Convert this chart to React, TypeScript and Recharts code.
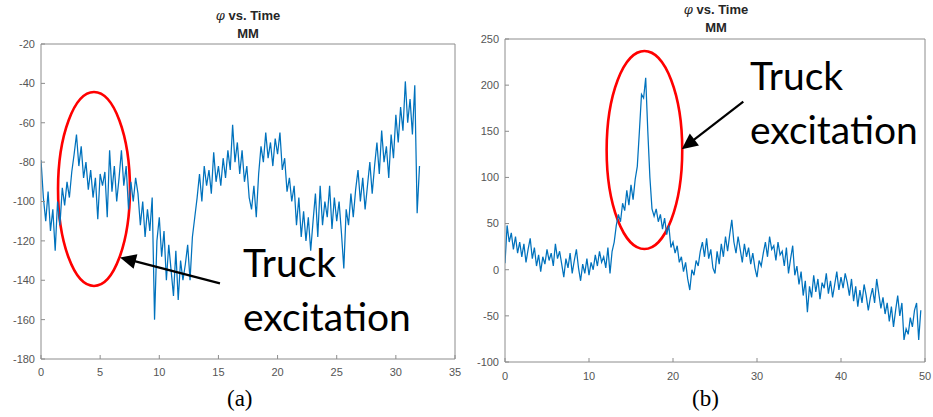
import React from "react";
import { LineChart, Line, XAxis, YAxis, ReferenceArea, ReferenceLine } from "recharts";

// (a) phi vs time, sampled every 0.2 s
const stepA = 0.2;
const phiA = [
  -79, -98, -110, -95, -115, -104,
  -125, -100, -112, -93, -102,
  -90, -98, -85, -76, -66,
  -82, -72, -88, -80, -94,
  -84, -98, -88, -109, -86,
  -92, -85, -108, -74, -95,
  -82, -100, -88, -74, -92,
  -82, -104, -90, -100, -88,
  -96, -112, -100, -118, -104,
  -115, -98, -160, -120, -108,
  -128, -115, -140, -122, -135,
  -148, -125, -150, -130, -140,
  -132, -122, -140, -118, -108,
  -98, -86, -100, -82, -92,
  -84, -96, -75, -90, -82,
  -92, -78, -88, -74, -84,
  -61, -80, -70, -86, -74,
  -90, -82, -98, -104, -92,
  -108, -86, -72, -80, -65,
  -78, -70, -82, -68, -76,
  -65, -84, -78, -95, -88,
  -100, -92, -112, -98, -118,
  -105, -120, -108, -125, -110,
  -96, -118, -92, -112, -100,
  -108, -92, -114, -98, -110,
  -100, -116, -134, -104, -112,
  -96, -108, -94, -84, -100,
  -88, -104, -92, -80, -96,
  -82, -70, -86, -64, -80,
  -72, -88, -66, -78, -56,
  -70, -52, -64, -39, -60,
  -48, -66, -41, -106, -82,
];

// (b) phi vs time, sampled every 0.25 s
const stepB = 0.25;
const phiB = [
  7, 48, 30, 40,
  22, 36, 18, 30,
  14, 28, 8, 22,
  34, 12, 24, 4,
  16, -2, 14, 6,
  22, 10, 18, 4,
  28, 12, 20, 6,
  -8, 12, 2, 18,
  -4, 10, 22, 2,
  -12, 6, -4, 12,
  -6, 8, 0, 16,
  4, 20, 8, 14,
  2, 24, -4, 20,
  30, 48, 60, 52,
  72, 64, 86, 70,
  92, 76, 98, 112,
  150, 190, 186, 208,
  150, 100, 66, 58,
  66, 52, 60, 44,
  56, 38, 48, 24,
  30, 18, 26, 8,
  14, -2, 8, -10,
  -22, 0, -6, 10,
  4, 20, 30, 14,
  34, 12, 22, 2,
  -4, 20, 6, 28,
  14, 36, 20, 38,
  54, 30, 18, 36,
  22, 8, 28, 14,
  24, 6, 18, 2,
  -8, 10, 4, 18,
  30, 14, 36, 22,
  26, 10, 30, 16,
  20, 4, 24, -4,
  12, 26, -6, 4,
  -16, -2, -28, -12,
  -46, -18, -30, -6,
  -24, -10, -32, -14,
  -20, -4, -26, -12,
  -30, -16, -2, -22,
  -8, -20, -4, -14,
  -28, -10, -34, -18,
  -40, -22, -36, -16,
  -28, -44, -30, -20,
  -36, -10, -26, -42,
  -30, -48, -36, -56,
  -40, -62, -44, -28,
  -50, -36, -76, -64,
  -70, -52, -62, -44,
  -36, -76, -44,
];

const xTicksA = [0, 5, 10, 15, 20, 25, 30, 35];
const yTicksA = [-180, -160, -140, -120, -100, -80, -60, -40, -20];
const xTicksB = [0, 10, 20, 30, 40, 50];
const yTicksB = [-100, -50, 0, 50, 100, 150, 200, 250];

const titleLine1 = "vs. Time";
const titleLine2 = "MM";
const annotationWord1 = "Truck";
const annotationWord2 = "excitation";
const captionA = "(a)";
const captionB = "(b)";

// annotation anchors in data coordinates
const ellipseA = { x1: 1.44, x2: 7.52, y1: -142.9, y2: -44.4 };
const arrowA = [{ x: 15.13, y: -141.6 }, { x: 6.68, y: -128.4 }];
const ellipseB = { x1: 12.1, x2: 21.1, y1: 22.4, y2: 237 };
const arrowB = [{ x: 28.37, y: 182.1 }, { x: 21.04, y: 130.5 }];

const dataA = phiA.map((v, i) => ({ t: +(i * stepA).toFixed(3), v }));
const dataB = phiB.map((v, i) => ({ t: +(i * stepB).toFixed(3), v }));

const AXIS = "#8c8c8c";
const TICKTXT = "#555555";
const LINE = "#0072BD";
const tickStyle = { fontSize: 11, fill: TICKTXT, fontFamily: "Liberation Sans, Arial, sans-serif" };

const EllipseShape = (p: any) => (
  <ellipse
    cx={p.x + p.width / 2}
    cy={p.y + p.height / 2}
    rx={Math.abs(p.width) / 2}
    ry={Math.abs(p.height) / 2}
    fill="none"
    stroke="#ff0000"
    strokeWidth={2.6}
  />
);

const ArrowShape = (p: any) => {
  const { x1, y1, x2, y2 } = p;
  const dx = x2 - x1;
  const dy = y2 - y1;
  const len = Math.sqrt(dx * dx + dy * dy) || 1;
  const ux = dx / len;
  const uy = dy / len;
  const hl = 16;
  const hw = 7.5;
  const bx = x2 - ux * hl;
  const by = y2 - uy * hl;
  const pts = `${x2},${y2} ${bx - uy * hw},${by + ux * hw} ${bx + uy * hw},${by - ux * hw}`;
  return (
    <g>
      <line x1={x1} y1={y1} x2={bx + ux * 2} y2={by + uy * 2} stroke="#000" strokeWidth={2.2} />
      <polygon points={pts} fill="#000" />
    </g>
  );
};

function Panel(props: any) {
  const { data, xDomain, yDomain, xTicks, yTicks, ellipse, arrow, margin, width, height, xTickMargin } = props;
  return (
    <LineChart width={width} height={height} data={data} margin={margin}>
      <XAxis
        dataKey="t"
        type="number"
        domain={xDomain}
        ticks={xTicks}
        allowDataOverflow
        height={30}
        stroke={AXIS}
        tickSize={-4}
        tickMargin={xTickMargin}
        tick={tickStyle}
        interval={0}
      />
      <XAxis
        xAxisId="top"
        orientation="top"
        dataKey="t"
        type="number"
        domain={xDomain}
        ticks={xTicks}
        allowDataOverflow
        height={1}
        stroke={AXIS}
        tickSize={-4}
        tick={false}
        interval={0}
      />
      <YAxis
        type="number"
        domain={yDomain}
        ticks={yTicks}
        allowDataOverflow
        width={35}
        stroke={AXIS}
        tickSize={-4}
        tickMargin={10}
        tick={tickStyle}
        interval={0}
      />
      <YAxis
        yAxisId="right"
        orientation="right"
        type="number"
        domain={yDomain}
        ticks={yTicks}
        allowDataOverflow
        width={1}
        stroke={AXIS}
        tickSize={-4}
        tick={false}
        interval={0}
      />
      <Line
        type="linear"
        dataKey="v"
        stroke={LINE}
        strokeWidth={1.25}
        dot={false}
        isAnimationActive={false}
      />
      <ReferenceArea
        x1={ellipse.x1}
        x2={ellipse.x2}
        y1={ellipse.y1}
        y2={ellipse.y2}
        ifOverflow="visible"
        shape={EllipseShape}
      />
      <ReferenceLine segment={arrow} ifOverflow="visible" shape={ArrowShape} />
    </LineChart>
  );
}

const titleStyle: React.CSSProperties = {
  position: "absolute",
  width: 200,
  textAlign: "center",
  fontFamily: "Liberation Sans, Arial, sans-serif",
  fontWeight: "bold",
  fontSize: 13,
  lineHeight: "18px",
  color: "#262626",
};

const annStyle: React.CSSProperties = {
  position: "absolute",
  fontFamily: "Lato, 'Open Sans', sans-serif",
  fontSize: 39,
  lineHeight: "54px",
  color: "#000",
  whiteSpace: "nowrap",
};

const capStyle: React.CSSProperties = {
  position: "absolute",
  fontFamily: "'Liberation Serif', 'Times New Roman', serif",
  fontSize: 23,
  lineHeight: "26px",
  color: "#000",
};

export default function App() {
  return (
    <div style={{ position: "absolute", left: 0, top: 0, width: 933, height: 417, background: "#fff", overflow: "hidden" }}>
      <div style={{ position: "absolute", left: 0, top: 0 }}>
        <Panel
          width={466}
          height={417}
          data={dataA}
          xDomain={[0, 35]}
          yDomain={[-180, -20]}
          xTicks={xTicksA}
          yTicks={yTicksA}
          ellipse={ellipseA}
          arrow={arrowA}
          margin={{ top: 43, left: 6, right: 10, bottom: 28 }}
          xTickMargin={13}
        />
      </div>
      <div style={{ position: "absolute", left: 466, top: 0 }}>
        <Panel
          width={467}
          height={417}
          data={dataB}
          xDomain={[0, 50]}
          yDomain={[-100, 250]}
          xTicks={xTicksB}
          yTicks={yTicksB}
          ellipse={ellipseB}
          arrow={arrowB}
          margin={{ top: 38, left: 4, right: 7, bottom: 25 }}
          xTickMargin={14}
        />
      </div>

      <div style={{ ...titleStyle, left: 148, top: 7 }}>
        <span style={{ fontStyle: "italic", fontWeight: "normal", fontFamily: "'DejaVu Serif', serif" }}>φ</span> {titleLine1}
      </div>
      <div style={{ ...titleStyle, left: 148, top: 25 }}>{titleLine2}</div>
      <div style={{ ...titleStyle, left: 616, top: 1 }}>
        <span style={{ fontStyle: "italic", fontWeight: "normal", fontFamily: "'DejaVu Serif', serif" }}>φ</span> {titleLine1}
      </div>
      <div style={{ ...titleStyle, left: 616, top: 19 }}>{titleLine2}</div>

      <div style={{ ...annStyle, left: 243, top: 235 }}>
        {annotationWord1}
        <br />
        {annotationWord2}
      </div>
      <div style={{ ...annStyle, left: 750, top: 48 }}>
        {annotationWord1}
        <br />
        {annotationWord2}
      </div>

      <div style={{ ...capStyle, left: 227, top: 386 }}>{captionA}</div>
      <div style={{ ...capStyle, left: 692, top: 386 }}>{captionB}</div>
    </div>
  );
}
